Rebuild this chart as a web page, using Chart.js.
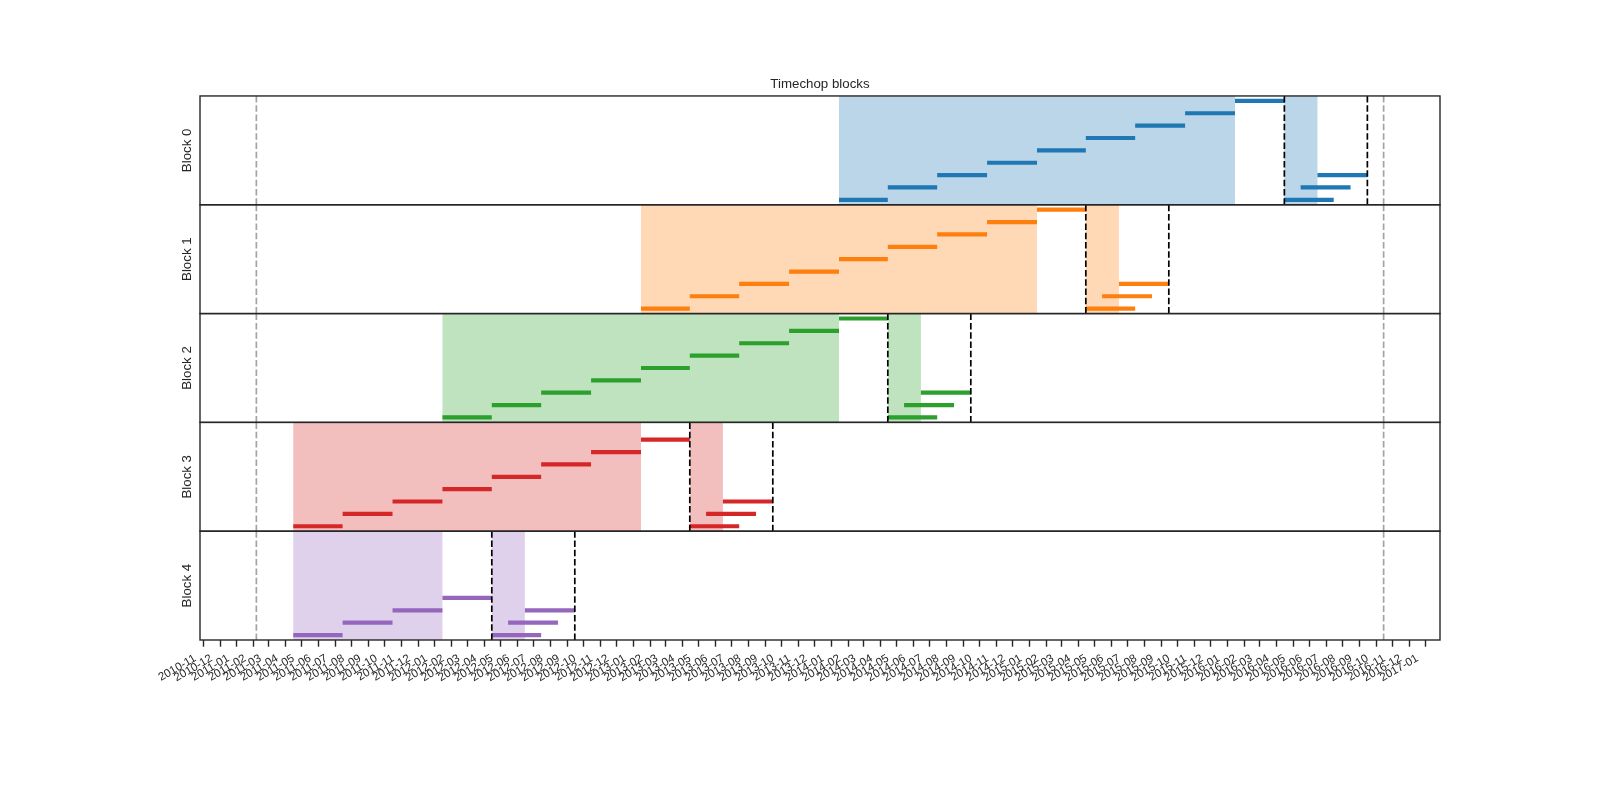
<!DOCTYPE html>
<html>
<head>
<meta charset="utf-8">
<script src="https://cdn.jsdelivr.net/npm/chart.js@4.4.1/dist/chart.umd.min.js"></script>
<style>
html,body{margin:0;padding:0;background:#ffffff;}
canvas{display:block;}
</style>
</head>
<body>
<canvas id="c" width="1600" height="800"></canvas>
<script>
// ---------------- data ----------------
const chartTitle = 'Timechop blocks';
const blockNames = ['Block 0', 'Block 1', 'Block 2', 'Block 3', 'Block 4'];
const blockColors = ['#1f77b4', '#ff7f0e', '#2ca02c', '#d62728', '#9467bd'];

// training as-of dates per block (each drawn as a segment lasting the label timespan)
const trainAsOfBlock0 = ['2014-01-15','2014-04-15','2014-07-15','2014-10-15','2015-01-15','2015-04-15','2015-07-15','2015-10-15','2016-01-15'];
const trainAsOfBlock1 = ['2013-01-15','2013-04-15','2013-07-15','2013-10-15','2014-01-15','2014-04-15','2014-07-15','2014-10-15','2015-01-15'];
const trainAsOfBlock2 = ['2012-01-15','2012-04-15','2012-07-15','2012-10-15','2013-01-15','2013-04-15','2013-07-15','2013-10-15','2014-01-15'];
const trainAsOfBlock3 = ['2011-04-15','2011-07-15','2011-10-15','2012-01-15','2012-04-15','2012-07-15','2012-10-15','2013-01-15'];
const trainAsOfBlock4 = ['2011-04-15','2011-07-15','2011-10-15','2012-01-15'];

// test as-of dates per block
const testAsOfBlock0 = ['2016-04-15','2016-05-15','2016-06-15'];
const testAsOfBlock1 = ['2015-04-15','2015-05-15','2015-06-15'];
const testAsOfBlock2 = ['2014-04-15','2014-05-15','2014-06-15'];
const testAsOfBlock3 = ['2013-04-15','2013-05-15','2013-06-15'];
const testAsOfBlock4 = ['2012-04-15','2012-05-15','2012-06-15'];

const trainLabelTimespanMonths = 3;
const testLabelTimespanMonths = 3;

// black dashed boundaries
const trainMatrixEnd = ['2016-04-15','2015-04-15','2014-04-15','2013-04-15','2012-04-15'];
const testMatrixEnd  = ['2016-09-15','2015-09-15','2014-09-15','2013-09-15','2012-09-15'];

// grey dashed boundaries (feature / label start and end)
const featureStartTime = '2011-02-06';
const featureEndTime = '2016-10-15';

// x tick labels (one per month)
const tickLabels = [
 '2010-11','2010-12',
 '2011-01','2011-02','2011-03','2011-04','2011-05','2011-06','2011-07','2011-08','2011-09','2011-10','2011-11','2011-12',
 '2012-01','2012-02','2012-03','2012-04','2012-05','2012-06','2012-07','2012-08','2012-09','2012-10','2012-11','2012-12',
 '2013-01','2013-02','2013-03','2013-04','2013-05','2013-06','2013-07','2013-08','2013-09','2013-10','2013-11','2013-12',
 '2014-01','2014-02','2014-03','2014-04','2014-05','2014-06','2014-07','2014-08','2014-09','2014-10','2014-11','2014-12',
 '2015-01','2015-02','2015-03','2015-04','2015-05','2015-06','2015-07','2015-08','2015-09','2015-10','2015-11','2015-12',
 '2016-01','2016-02','2016-03','2016-04','2016-05','2016-06','2016-07','2016-08','2016-09','2016-10','2016-11','2016-12',
 '2017-01'
];

// ---------------- helpers ----------------
const DAY_MS = 86400000;
function toDay(s) { const p = s.split('-').map(Number); return Date.UTC(p[0], p[1] - 1, p[2] || 1) / DAY_MS; }
function plusMonths(s, n) { const p = s.split('-').map(Number); return Date.UTC(p[0], p[1] - 1 + n, p[2]) / DAY_MS; }

const trainAsOf = [trainAsOfBlock0, trainAsOfBlock1, trainAsOfBlock2, trainAsOfBlock3, trainAsOfBlock4];
const testAsOf = [testAsOfBlock0, testAsOfBlock1, testAsOfBlock2, testAsOfBlock3, testAsOfBlock4];
const tickValues = tickLabels.map(l => toDay(l + '-01'));

const lo = toDay(featureStartTime), hi = toDay(featureEndTime);
const xMin = lo - 0.05 * (hi - lo);
const xMax = hi + 0.05 * (hi - lo);

function alpha(hex, a) {
  const n = parseInt(hex.slice(1), 16);
  return `rgba(${(n >> 16) & 255},${(n >> 8) & 255},${n & 255},${a})`;
}

function segments(asOf, months) {
  const pts = [];
  asOf.forEach((s, i) => {
    const e = plusMonths(s, months);
    pts.push({x: toDay(s), y: i}, {x: e, y: i}, {x: e, y: null});
  });
  return pts;
}

const datasets = [];
for (let b = 0; b < 5; b++) {
  const common = {type: 'line', yAxisID: 'y' + b, xAxisID: 'x', borderColor: blockColors[b],
    backgroundColor: blockColors[b], borderWidth: 4.2, pointRadius: 0, pointHoverRadius: 0,
    fill: false, tension: 0, spanGaps: false, borderCapStyle: 'butt'};
  datasets.push(Object.assign({label: 'train_' + b, data: segments(trainAsOf[b], trainLabelTimespanMonths)}, common));
  datasets.push(Object.assign({label: 'test_' + b, data: segments(testAsOf[b], testLabelTimespanMonths)}, common));
}

const FG = '#262626';
const scales = {
  x: {
    type: 'linear', position: 'bottom', min: xMin, max: xMax, bounds: 'data',
    afterBuildTicks: s => { s.ticks = tickValues.map(v => ({value: v})); },
    afterFit: s => { s.height = 160; },
    ticks: {autoSkip: false, minRotation: 30, maxRotation: 30, padding: 5, labelOffset: -8.5, color: FG,
      font: {size: 11.5}, callback: (v, i) => tickLabels[i]},
    grid: {display: true, drawOnChartArea: false, drawTicks: true, tickLength: 6.7, tickWidth: 1.4, tickColor: FG},
    border: {display: false}
  }
};
for (let b = 4; b >= 0; b--) {
  scales['y' + b] = {
    type: 'linear', axis: 'y', position: 'left', stack: 'blocks', stackWeight: 1,
    min: -0.4, max: 8.4,
    ticks: {display: false}, grid: {display: false}, border: {display: false},
    title: {display: true, text: blockNames[b], color: FG, font: {size: 13.3}, padding: {top: 1, bottom: 0}},
    afterFit: s => { s.width = 22; }
  };
}

const panelPlugin = {
  id: 'panels',
  beforeDatasetsDraw(chart) {
    const ctx = chart.ctx, x = chart.scales.x;
    ctx.save();
    for (let b = 0; b < 5; b++) {
      const y = chart.scales['y' + b];
      ctx.fillStyle = alpha(blockColors[b], 0.3);
      const spans = [[trainAsOf[b][0], trainAsOf[b][trainAsOf[b].length - 1]],
                     [testAsOf[b][0], testAsOf[b][testAsOf[b].length - 1]]];
      spans.forEach(([s, e]) => {
        const x0 = x.getPixelForValue(toDay(s)), x1 = x.getPixelForValue(toDay(e));
        ctx.fillRect(x0, y.top, x1 - x0, y.bottom - y.top);
      });
    }
    ctx.restore();
  },
  afterDatasetsDraw(chart) {
    const ctx = chart.ctx, x = chart.scales.x;
    ctx.save();
    const vline = (d, y, color) => {
      const px = x.getPixelForValue(toDay(d));
      ctx.strokeStyle = color;
      ctx.lineWidth = 1.7;
      ctx.setLineDash([6.5, 2.8]);
      ctx.beginPath();
      ctx.moveTo(px, y.bottom);
      ctx.lineTo(px, y.top);
      ctx.stroke();
    };
    for (let b = 0; b < 5; b++) {
      const y = chart.scales['y' + b];
      vline(featureStartTime, y, 'rgba(0,0,0,0.36)');
      vline(featureEndTime, y, 'rgba(0,0,0,0.36)');
      vline(trainMatrixEnd[b], y, '#000000');
      vline(testMatrixEnd[b], y, '#000000');
    }
    ctx.setLineDash([]);
    ctx.strokeStyle = FG;
    ctx.lineWidth = 1.4;
    for (let b = 0; b < 5; b++) {
      const y = chart.scales['y' + b];
      ctx.strokeRect(x.left, y.top, x.right - x.left, y.bottom - y.top);
    }
    ctx.restore();
  }
};

Chart.defaults.font.family = '"Liberation Sans", Arial, sans-serif';
Chart.defaults.color = FG;

new Chart(document.getElementById('c'), {
  type: 'line',
  data: {datasets},
  options: {
    responsive: false, animation: false, devicePixelRatio: 1, events: [],
    layout: {padding: {left: 178, right: 160, top: 76.5, bottom: 0}},
    plugins: {
      legend: {display: false}, tooltip: {enabled: false},
      title: {display: true, text: chartTitle, fullSize: false, color: FG,
        font: {size: 13.3, weight: 'normal'}, padding: {top: 0, bottom: 3.5}}
    },
    scales
  },
  plugins: [panelPlugin]
});
</script>
</body>
</html>
